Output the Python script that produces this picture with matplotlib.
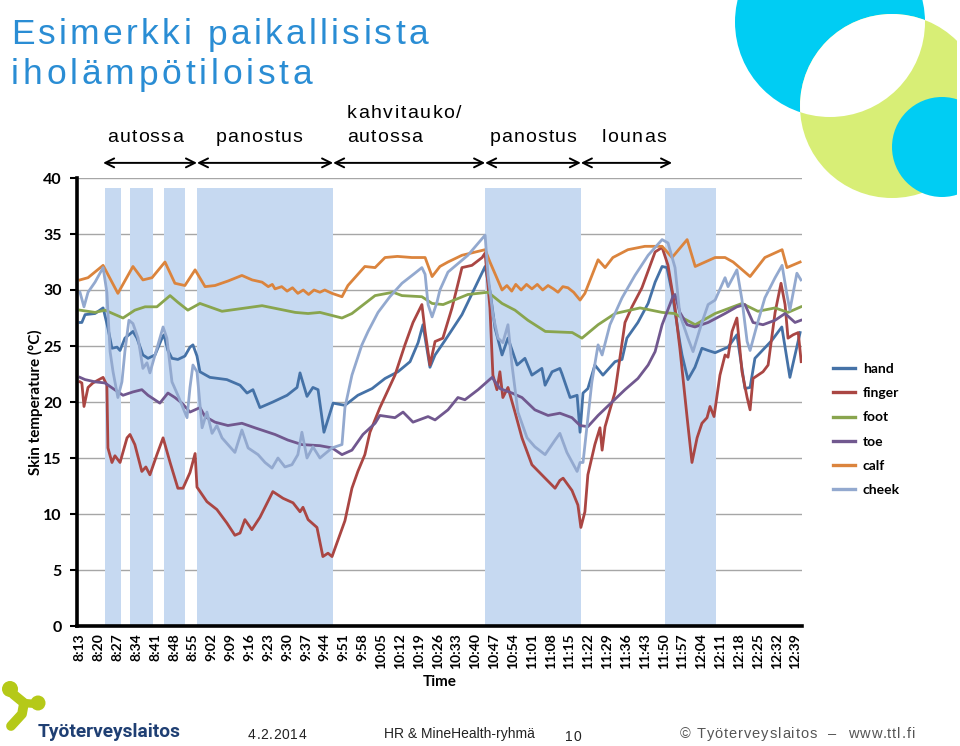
import matplotlib
matplotlib.use("Agg")
import matplotlib.pyplot as plt
from matplotlib.patches import Circle
from matplotlib.lines import Line2D

# aika = minuutteja klo 8:13 jalkeen, arvot = ihon lampotila (C)
tick_labels = ['8:13', '8:20', '8:27', '8:34', '8:41', '8:48', '8:55', '9:02', '9:09', '9:16',
               '9:23', '9:30', '9:37', '9:44', '9:51', '9:58', '10:05', '10:12', '10:19', '10:26',
               '10:33', '10:40', '10:47', '10:54', '11:01', '11:08', '11:15', '11:22', '11:29', '11:36',
               '11:43', '11:50', '11:57', '12:04', '12:11', '12:18', '12:25', '12:32', '12:39']
tick_minutes = [7 * i for i in range(len(tick_labels))]

# varjostetut jaksot (alku, loppu) minuutteina
band_start = [9.3, 18.6, 31.2, 43.5, 150.6, 217.5]
band_end = [15.2, 27.1, 39.0, 94.1, 186.2, 236.4]
band_top = 39.1

# vaiheet nuolten ylla
phase_edges = [8.6, 43.5, 94.1, 150.6, 186.2, 220.1]
phase_labels = ['autossa', 'panostus', 'kahvitauko/', 'panostus', 'lounas']

hand_t = [0, 0.7, 1.9, 5.6, 8.6, 10.4, 11.9, 13.8, 14.9, 16.7, 19.7, 21.2, 23.4, 25.3, 27.9, 30.5,
          31.2, 32.7, 34.2, 36.4, 39.0, 40.9, 42.0, 43.5, 44.6, 48.3, 54.6, 59.5, 62.1, 64.3, 66.9,
          71.7, 77.0, 80.7, 81.8, 84.4, 86.6, 88.5, 90.7, 94.1, 98.5, 103.3, 108.6, 113.4, 118.2,
          122.7, 125.7, 127.5, 130.1, 132.0, 135.7, 142.0, 146.8, 150.6, 152.4, 154.3, 156.9, 159.1,
          162.5, 165.4, 168.0, 171.7, 172.9, 175.5, 178.4, 179.2, 182.2, 184.8, 185.9, 187.0, 188.8,
          191.4, 194.4, 198.9, 201.5, 203.3, 207.4, 211.2, 213.8, 216.4, 218.2, 220.1, 223.0, 223.8,
          226.0, 228.6, 231.2, 233.5, 236.1, 240.9, 244.2, 247.2, 249.1, 250.9, 257.2, 260.9, 263.9,
          267.7]
hand_v = [27.1, 27.1, 27.8, 27.9, 28.4, 26.6, 24.8, 24.9, 24.6, 25.7, 26.3, 25.7, 24.2, 23.9, 24.2,
          25.7, 26.0, 24.6, 23.9, 23.8, 24.1, 24.9, 25.1, 24.1, 22.7, 22.2, 22.0, 21.5, 20.8, 21.1,
          19.5, 20.0, 20.6, 21.3, 22.6, 20.5, 21.3, 21.1, 17.3, 19.9, 19.7, 20.6, 21.2, 22.1, 22.7,
          23.6, 25.3, 26.9, 23.1, 24.2, 25.5, 27.8, 30.2, 32.1, 29.9, 26.6, 24.2, 25.7, 23.3, 23.9,
          22.4, 23.0, 21.5, 22.7, 23.0, 22.5, 20.4, 20.6, 17.3, 20.8, 21.2, 23.3, 22.4, 23.6, 23.8,
          25.7, 27.1, 28.8, 30.7, 32.1, 32.0, 29.8, 25.3, 24.2, 22.0, 23.1, 24.8, 24.6, 24.4, 24.9,
          26.0, 21.2, 21.3, 23.9, 25.5, 26.7, 22.2, 26.2]

finger_t = [0, 0.7, 1.5, 3.0, 4.8, 8.6, 10.0, 10.4, 11.9, 13.0, 14.9, 17.5, 18.6, 20.4, 23.0, 24.5,
            26.0, 28.6, 30.9, 33.5, 36.4, 38.3, 40.9, 42.8, 43.5, 47.2, 50.9, 54.6, 57.6, 59.5, 61.3,
            63.9, 66.9, 71.7, 75.5, 79.2, 81.8, 82.9, 84.8, 88.1, 90.3, 92.2, 93.7, 98.5, 101.1,
            103.3, 105.9, 107.8, 111.5, 117.1, 120.8, 123.8, 127.1, 128.3, 130.1, 132.0, 134.9,
            138.3, 142.0, 145.7, 149.5, 150.6, 152.4, 153.5, 155.0, 156.1, 157.2, 159.1, 161.7,
            164.3, 168.0, 172.9, 176.6, 178.4, 179.6, 182.9, 185.1, 186.2, 187.7, 188.8, 191.4,
            193.3, 194.1, 195.2, 198.9, 202.6, 205.2, 208.9, 213.8, 216.4, 218.6, 221.2, 223.0,
            225.7, 227.5, 229.4, 231.2, 233.1, 234.2, 235.7, 237.9, 239.8, 240.9, 242.4, 244.2,
            246.1, 248.0, 249.1, 250.2, 253.9, 255.8, 258.4, 260.6, 262.1, 263.2, 265.1, 267.0, 268.1]
finger_v = [21.8, 21.7, 19.6, 21.3, 21.7, 22.2, 21.5, 15.9, 14.6, 15.2, 14.6, 16.8, 17.1, 16.2, 13.8,
            14.2, 13.5, 15.3, 16.8, 14.6, 12.3, 12.3, 13.7, 15.4, 12.4, 11.1, 10.4, 9.2, 8.1, 8.3,
            9.5, 8.6, 9.7, 12.0, 11.4, 11.0, 10.2, 10.6, 9.5, 8.8, 6.2, 6.5, 6.2, 9.4, 12.3, 13.8,
            15.3, 17.3, 19.5, 22.4, 25.1, 27.1, 28.7, 26.3, 23.3, 25.4, 25.7, 28.4, 32.0, 32.2, 32.9,
            33.3, 28.4, 22.4, 21.1, 22.7, 20.4, 21.3, 19.1, 16.8, 14.4, 13.2, 12.3, 13.0, 13.2, 12.1,
            10.8, 8.8, 10.2, 13.5, 16.2, 17.7, 15.7, 17.8, 20.9, 27.1, 28.5, 30.2, 33.4, 33.8, 32.2,
            28.4, 24.8, 18.6, 14.6, 16.8, 18.1, 18.6, 19.6, 18.7, 22.4, 24.2, 24.0, 26.3, 27.5, 22.7,
            20.4, 19.3, 22.1, 22.7, 23.3, 28.0, 30.6, 28.7, 25.7, 26.0, 26.2, 23.6]

foot_t = [0, 5.6, 9.3, 16.0, 20.4, 24.2, 28.6, 33.5, 36.4, 40.1, 44.6, 52.8, 67.7, 80.0, 84.8, 89.2,
          97.4, 101.1, 109.7, 116.4, 119.7, 127.1, 130.9, 135.0, 144.2, 151.7, 156.9, 161.7, 166.5,
          173.0, 183.0, 186.6, 192.6, 198.9, 208.2, 216.4, 221.0, 228.7, 236.1, 246.1, 252.0, 258.4,
          263.2, 268.0]
foot_v = [28.2, 28.0, 28.2, 27.5, 28.2, 28.5, 28.5, 29.5, 28.9, 28.2, 28.8, 28.1, 28.6, 28.0, 27.9,
          28.0, 27.5, 27.9, 29.5, 29.8, 29.5, 29.4, 28.8, 28.7, 29.6, 29.8, 28.8, 28.2, 27.3, 26.3,
          26.2, 25.7, 26.9, 27.9, 28.4, 28.0, 27.9, 26.9, 27.9, 28.8, 28.1, 28.4, 28.0, 28.5]

toe_t = [0, 1.9, 5.6, 9.3, 12.3, 16.0, 19.7, 23.0, 25.3, 29.7, 32.7, 35.3, 37.9, 40.9, 44.6, 46.5,
         50.2, 55.0, 60.2, 65.0, 72.5, 77.3, 82.5, 89.2, 93.7, 97.4, 101.1, 105.2, 109.7, 111.5,
         117.1, 120.1, 123.8, 129.4, 132.0, 136.8, 140.5, 143.1, 148.0, 153.2, 156.1, 160.6, 164.3,
         169.1, 174.0, 178.4, 182.9, 185.9, 188.8, 192.6, 197.8, 202.6, 207.4, 211.2, 213.8, 216.4,
         220.4, 221.2, 223.0, 225.7, 228.6, 233.5, 239.8, 244.2, 247.2, 250.2, 253.9, 258.4, 262.1,
         265.8, 268.0]
toe_v = [22.2, 22.0, 21.8, 21.7, 21.2, 20.6, 20.9, 21.1, 20.6, 19.9, 20.8, 20.4, 19.9, 19.1, 19.5,
         18.7, 18.2, 17.9, 18.1, 17.7, 17.1, 16.6, 16.2, 16.1, 15.9, 15.3, 15.7, 17.1, 18.1, 18.8,
         18.6, 19.1, 18.2, 18.7, 18.4, 19.3, 20.4, 20.2, 21.1, 22.2, 21.2, 20.8, 20.4, 19.3, 18.8,
         19.0, 18.6, 17.9, 17.8, 18.8, 20.0, 21.1, 22.1, 23.3, 24.5, 26.9, 29.4, 29.6, 28.0, 26.9,
         26.7, 27.1, 27.9, 28.5, 28.7, 27.1, 26.9, 27.3, 27.9, 27.1, 27.3]

calf_t = [0, 3.0, 8.6, 14.1, 19.7, 23.4, 26.8, 31.6, 35.3, 39.0, 42.8, 46.5, 50.2, 55.0, 60.2, 64.0,
          67.7, 70.0, 71.5, 72.5, 75.0, 77.0, 79.0, 81.0, 83.0, 85.0, 87.0, 89.2, 91.0, 93.7, 97.4,
          99.6, 105.9, 109.7, 113.4, 118.0, 123.4, 128.3, 130.9, 133.8, 136.8, 142.0, 150.6, 152.4,
          156.9, 158.7, 160.5, 162.0, 164.0, 166.0, 168.0, 170.0, 172.0, 174.0, 176.0, 177.7, 179.5,
          181.4, 183.5, 185.9, 187.7, 192.6, 195.2, 198.1, 203.7, 210.0, 216.4, 220.1, 225.7, 228.7,
          236.1, 239.8, 242.8, 249.1, 254.6, 261.0, 262.8, 267.7]
calf_v = [30.9, 31.1, 32.2, 29.7, 32.1, 30.9, 31.1, 32.5, 30.6, 30.4, 31.8, 30.3, 30.4, 30.8, 31.3,
          30.9, 30.7, 30.3, 30.5, 30.1, 30.3, 29.9, 30.2, 29.7, 30.0, 29.6, 30.0, 29.8, 30.0, 29.7,
          29.4, 30.4, 32.1, 32.0, 32.9, 33.0, 32.9, 32.9, 31.2, 32.1, 32.5, 33.1, 33.6, 32.5, 30.0,
          30.4, 29.9, 30.5, 30.0, 30.5, 30.1, 30.5, 30.0, 30.4, 30.1, 29.8, 30.3, 30.2, 29.8, 29.1,
          29.7, 32.7, 32.0, 32.9, 33.6, 33.9, 33.9, 32.9, 34.5, 32.1, 32.9, 32.9, 32.5, 31.2, 32.9,
          33.6, 32.0, 32.5]

cheek_t = [0, 1.5, 3.0, 5.6, 8.6, 10.0, 11.2, 12.3, 14.1, 15.6, 16.7, 18.2, 19.7, 21.6, 23.4, 24.9,
           26.0, 27.9, 30.9, 32.3, 34.2, 36.4, 39.8, 40.9, 42.0, 43.5, 45.4, 47.2, 49.1, 50.9, 52.8,
           55.0, 57.6, 60.2, 62.5, 66.2, 68.8, 71.4, 73.6, 76.2, 78.8, 81.0, 82.5, 84.4, 86.6, 89.2,
           93.7, 97.4, 98.5, 101.1, 104.8, 107.1, 110.8, 115.2, 119.7, 124.5, 127.1, 128.3, 129.4,
           130.9, 132.7, 133.8, 136.8, 144.2, 150.6, 151.7, 153.5, 155.4, 157.2, 159.1, 160.6,
           162.8, 166.2, 169.1, 172.9, 176.6, 178.4, 181.0, 184.8, 185.9, 187.0, 188.5, 190.3,
           192.6, 194.1, 197.0, 201.5, 206.3, 211.2, 216.4, 218.6, 221.2, 223.0, 226.0, 227.9,
           231.2, 233.5, 236.1, 239.8, 240.9, 244.2, 246.1, 248.0, 249.1, 251.7, 254.6, 258.4,
           261.0, 262.8, 263.9, 266.5, 268.0]
cheek_v = [29.8, 28.5, 29.8, 30.7, 32.0, 29.8, 24.5, 22.7, 20.4, 21.8, 24.5, 27.3, 27.0, 25.7, 23.0,
           23.5, 22.6, 24.2, 26.7, 25.7, 21.8, 20.6, 18.6, 21.3, 23.3, 22.7, 17.7, 19.1, 17.2, 17.9,
           16.8, 16.2, 15.5, 17.5, 15.9, 15.3, 14.6, 14.1, 15.0, 14.2, 14.4, 15.3, 17.3, 15.0, 16.0,
           15.0, 15.9, 16.2, 19.5, 22.4, 25.1, 26.3, 28.0, 29.4, 30.6, 31.5, 32.0, 31.4, 28.7, 27.6,
           28.9, 30.0, 31.6, 33.1, 34.9, 31.3, 27.8, 25.7, 25.3, 26.9, 23.3, 19.1, 16.8, 16.0, 15.3,
           16.6, 17.2, 15.5, 13.8, 14.6, 14.6, 17.9, 21.8, 25.1, 24.2, 26.9, 29.3, 31.3, 33.1, 34.5,
           34.2, 32.0, 27.8, 25.7, 24.5, 27.1, 28.7, 29.1, 31.1, 30.3, 31.8, 29.1, 25.4, 24.6, 26.9,
           29.3, 31.1, 32.2, 29.6, 28.2, 31.5, 30.9]

series = [
    ('hand', hand_t, hand_v, '#4572A7'),
    ('finger', finger_t, finger_v, '#AA4643'),
    ('foot', foot_t, foot_v, '#89A54E'),
    ('toe', toe_t, toe_v, '#71588F'),
    ('calf', calf_t, calf_v, '#DB843D'),
    ('cheek', cheek_t, cheek_v, '#93A9CF'),
]

W, H = 960, 746
fig = plt.figure(figsize=(W / 100, H / 100), dpi=100)
fig.patch.set_facecolor('white')
renderer = fig.canvas.get_renderer()


def fx(x):
    return x / W


def fy(y):
    return 1 - y / H


def text_width(s, **kw):
    if not s:
        return 0.0
    t = fig.text(0, 0, s, **kw)
    w = t.get_window_extent(renderer).width
    t.remove()
    return w


def tracked_text(x, y, s, track, ha='left', **kw):
    # harvennettu teksti: merkit yksitellen, lisavali track px
    ref = text_width('x', **kw)
    widths = [text_width(s[:i] + 'x', **kw) - ref for i in range(len(s) + 1)]
    widths[0] = 0.0
    total = widths[-1] + track * (len(s) - 1)
    x0 = x - total / 2 if ha == 'center' else x
    for i, ch in enumerate(s):
        if ch != ' ':
            fig.text(fx(x0 + widths[i] + track * i), fy(y), ch, ha='left', va='center', **kw)


# koristeympyrat ja logo pikselikoordinaateissa
deco = fig.add_axes([0, 0, 1, 1], zorder=-1)
deco.set_xlim(0, W)
deco.set_ylim(H, 0)
deco.axis('off')
cyan = '#00cdf3'
lime = '#d8ee76'
deco.add_patch(Circle((830, 22), 95, color=cyan, lw=0))
deco.add_patch(Circle((892, 106), 92, color=lime, lw=0))
lens = Circle((892, 106), 92, color='white', lw=0)
deco.add_patch(lens)
lens.set_clip_path(Circle((830, 22), 95, transform=deco.transData))
deco.add_patch(Circle((942, 147), 50, color=cyan, lw=0))
deco.add_patch(plt.Rectangle((957, 0), 3, H, color='white', lw=0))

logo_green = '#b5c918'
deco.add_patch(Circle((10, 689), 8, color=logo_green, lw=0))
deco.add_patch(Circle((38, 703), 7.5, color=logo_green, lw=0))
deco.plot([13, 24, 22, 11], [694, 703, 714, 726], color=logo_green, lw=7, solid_capstyle='round')
deco.plot([24, 36], [703, 704], color=logo_green, lw=6, solid_capstyle='round')

# paakaavio
ax = fig.add_axes([fx(77), fy(626), (802 - 77) / W, (626 - 178) / H])
ax.set_facecolor('none')
ax.set_xlim(-1.1, 268.4)
ax.set_ylim(0, 40)
ax.set_axisbelow(True)
ax.yaxis.grid(True, color='#a6a6a6', lw=1)

for a, b in zip(band_start, band_end):
    ax.fill_between([a, b], 0, band_top, color='#c6d9f1', lw=0, zorder=1)

for name, t, v, c in series:
    ax.plot(t, v, color=c, lw=2.0, label=name, zorder=3, solid_joinstyle='round')

for s in ['top', 'right']:
    ax.spines[s].set_visible(False)
for s in ['left', 'bottom']:
    ax.spines[s].set_linewidth(2.6)
    ax.spines[s].set_color('black')
    ax.spines[s].set_zorder(4)

ax.set_yticks(range(0, 41, 5))
ax.set_xticks(tick_minutes)
ax.set_xticklabels(tick_labels, rotation=90, fontsize=10, fontweight='bold', family='Lato')
for lab in ax.get_yticklabels():
    lab.set_fontsize(11.5)
    lab.set_fontweight('bold')
    lab.set_family('Lato')
ax.tick_params(axis='y', length=5, width=1.5, pad=6)
ax.tick_params(axis='x', length=0, pad=5)
ax.set_xlabel('Time', fontsize=11, fontweight='bold', family='Lato', labelpad=4)
ax.set_ylabel('Skin temperature (°C)', fontsize=11, fontweight='bold', family='Lato', labelpad=0)

handles = [Line2D([0], [0], color=c, lw=2.4) for _, _, _, c in series]
fig.legend(handles, [s[0] for s in series], loc='upper left',
           bbox_to_anchor=(fx(833), fy(363)), frameon=False, borderpad=0,
           borderaxespad=0, handlelength=1.6, handletextpad=0.55, labelspacing=0.88,
           prop={'family': 'Lato', 'weight': 'bold', 'size': 10})

# vaihenuolet
for a, b in zip(phase_edges[:-1], phase_edges[1:]):
    ax.annotate('', xy=(a, 41.35), xytext=(b, 41.35), annotation_clip=False,
                arrowprops=dict(arrowstyle='<->', color='black', lw=1.4,
                                shrinkA=0, shrinkB=0, mutation_scale=16))

label_font = dict(fontsize=14, family='Liberation Sans', color='black')
tracked_text(145, 137, phase_labels[0], 1.1, ha='center', **label_font)
tracked_text(259, 137, phase_labels[1], 1.1, ha='center', **label_font)
tracked_text(347, 113, phase_labels[2], 1.5, **label_font)
tracked_text(347, 137, 'autossa', 1.1, **label_font)
tracked_text(533, 137, phase_labels[3], 1.1, ha='center', **label_font)
tracked_text(634, 137, phase_labels[4], 1.5, ha='center', **label_font)

# otsikko
title_font = dict(fontsize=25.5, family='Liberation Sans', color='#2a8dd4')
tracked_text(11, 35, 'Esimerkki paikallisista', 3.3, **title_font)
tracked_text(11, 75, 'iholämpötiloista', 3.8, **title_font)

# alatunniste
fig.text(fx(38), fy(732), 'Työterveyslaitos', ha='left', va='center', fontsize=13.8,
         fontweight='bold', family='Roboto', color='#1f3f73')
foot_font = dict(fontsize=10, family='Liberation Sans', color='#222222')
tracked_text(248, 735, '4.2.2014', 0.6, **foot_font)
fig.text(fx(384), fy(734), 'HR & MineHealth-ryhmä', ha='left', va='center', **foot_font)
tracked_text(565, 737, '10', 0.6, **foot_font)
tracked_text(680, 734, '© Työterveyslaitos  –  www.ttl.fi', 1.0, fontsize=10.5,
             family='Liberation Sans', color='#555555')

fig.savefig('out.png', dpi=100)
